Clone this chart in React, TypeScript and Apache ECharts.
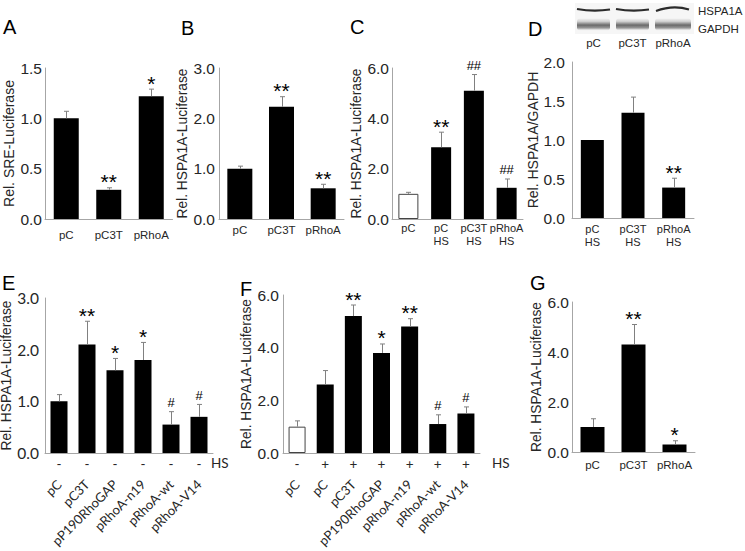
import React, { useEffect, useRef } from 'react';
import * as echarts from 'echarts';

// ---------- data ----------
const catsA = ['pC', 'pC3T', 'pRhoA'];
const ticksA = [0, 0.5, 1.0, 1.5];
const meanA = [1.0, 0.29, 1.22];
const errA = [1.07, 0.31, 1.29];
const sigA = ['', '**', '*'];

const catsB = ['pC', 'pC3T', 'pRhoA'];
const ticksB = [0, 1, 2, 3];
const meanB = [1.0, 2.23, 0.61];
const errB = [1.05, 2.43, 0.69];
const sigB = ['', '**', '**'];

const catsC = ['pC', 'pC\nHS', 'pC3T\nHS', 'pRhoA\nHS'];
const hsC = ['-', '+', '+', '+'];
const ticksC = [0, 2, 4, 6];
const meanC = [1.0, 2.85, 5.1, 1.24];
const errC = [1.06, 3.45, 5.74, 1.59];
const sigC = ['', '**', '##', '##'];

const blotLanes = ['pC', 'pC3T', 'pRhoA'];
const blotBands = ['HSPA1A', 'GAPDH'];
const catsD = ['pC\nHS', 'pC3T\nHS', 'pRhoA\nHS'];
const ticksD = [0, 0.5, 1.0, 1.5, 2.0];
const meanD = [1.0, 1.35, 0.39];
const errD = [1.0, 1.55, 0.51];
const sigD = ['', '', '**'];

const catsE = ['pC', 'pC3T', 'pP190RhoGAP', 'pRhoA-n19', 'pRhoA-wt', 'pRhoA-V14'];
const hsE = ['-', '-', '-', '-', '-', '-'];
const ticksE = [0, 1, 2, 3];
const meanE = [1.0, 2.1, 1.6, 1.8, 0.55, 0.7];
const errE = [1.13, 2.55, 1.83, 2.14, 0.8, 0.94];
const sigE = ['', '**', '*', '*', '#', '#'];

const catsF = ['pC', 'pC', 'pC3T', 'pP190RhoGAP', 'pRhoA-n19', 'pRhoA-wt', 'pRhoA-V14'];
const hsF = ['-', '+', '+', '+', '+', '+', '+'];
const ticksF = [0, 2, 4, 6];
const meanF = [1.0, 2.6, 5.2, 3.8, 4.8, 1.1, 1.5];
const errF = [1.22, 3.13, 5.62, 4.14, 5.1, 1.45, 1.75];
const sigF = ['', '', '**', '*', '**', '#', '#'];

const catsG = ['pC', 'pC3T', 'pRhoA'];
const ticksG = [0, 2, 4, 6];
const meanG = [1.0, 4.3, 0.3];
const errG = [1.33, 5.1, 0.45];
const sigG = ['', '**', '*'];

// ---------- styles ----------
const SANS = '"Liberation Sans", Arial, Helvetica, sans-serif';
const HUM = 'Lato, "Open Sans", sans-serif';
const AX = '#a6a6a6';
const TXT = '#262626';

type Panel = {
  letter: string;
  cats: string[];
  ticks: number[];
  mean: number[];
  err: number[];
  sig: string[];
  hs?: string[];
  hollowControl?: boolean;
  showHs?: boolean;
  grid: { left: number; top: number; width: number; height: number };
  name: string;
  nameGap: number;
  barWidth: number;
  catMargin: number;
  catFont: number;
  catFamily: string;
  rotate?: number;
  tickMargin: number;
  tickFont: number;
  tickFamily: string;
  nameFont: number;
  nameFamily: string;
};

const panels: Panel[] = [
  {
    letter: 'A', cats: catsA, ticks: ticksA, mean: meanA, err: errA, sig: sigA,
    grid: { left: 45, top: 68, width: 127.5, height: 151 },
    name: 'Rel. SRE-Luciferase', nameGap: 29, barWidth: 25, catMargin: 10, catFont: 11.5, catFamily: SANS,
    tickMargin: 3, tickFont: 15.5, tickFamily: SANS, nameFont: 14, nameFamily: SANS,
  },
  {
    letter: 'B', cats: catsB, ticks: ticksB, mean: meanB, err: errB, sig: sigB,
    grid: { left: 219, top: 68, width: 125, height: 151 },
    name: 'Rel. HSPA1A-Luciferase', nameGap: 25, barWidth: 25, catMargin: 5, catFont: 11.5, catFamily: SANS,
    tickMargin: 4, tickFont: 15.5, tickFamily: SANS, nameFont: 13.8, nameFamily: SANS,
  },
  {
    letter: 'C', cats: catsC, ticks: ticksC, mean: meanC, err: errC, sig: sigC, hs: hsC, hollowControl: true,
    grid: { left: 392, top: 68, width: 131, height: 151 },
    name: 'Rel. HSPA1A-Luciferase', nameGap: 26, barWidth: 20, catMargin: 3, catFont: 11, catFamily: SANS,
    tickMargin: 3, tickFont: 15.5, tickFamily: SANS, nameFont: 13.8, nameFamily: SANS,
  },
  {
    letter: 'D', cats: catsD, ticks: ticksD, mean: meanD, err: errD, sig: sigD,
    grid: { left: 572, top: 62, width: 122, height: 156 },
    name: 'Rel. HSPA1A/GAPDH', nameGap: 29, barWidth: 23, catMargin: 5, catFont: 11, catFamily: SANS,
    tickMargin: 7, tickFont: 15.5, tickFamily: SANS, nameFont: 14, nameFamily: SANS,
  },
  {
    letter: 'E', cats: catsE, ticks: ticksE, mean: meanE, err: errE, sig: sigE, hs: hsE, showHs: true,
    grid: { left: 45, top: 298, width: 168, height: 155 },
    name: 'Rel. HSPA1A-Luciferase', nameGap: 28, barWidth: 17, catMargin: 29, catFont: 13, catFamily: HUM, rotate: 45,
    tickMargin: 6, tickFont: 15.5, tickFamily: HUM, nameFont: 13.8, nameFamily: SANS,
  },
  {
    letter: 'F', cats: catsF, ticks: ticksF, mean: meanF, err: errF, sig: sigF, hs: hsF, showHs: true, hollowControl: true,
    grid: { left: 283, top: 295, width: 197, height: 158 },
    name: 'Rel. HSPA1A-Luciferase', nameGap: 30, barWidth: 17, catMargin: 29, catFont: 13, catFamily: HUM, rotate: 45,
    tickMargin: 4, tickFont: 15.5, tickFamily: SANS, nameFont: 13.8, nameFamily: SANS,
  },
  {
    letter: 'G', cats: catsG, ticks: ticksG, mean: meanG, err: errG, sig: sigG,
    grid: { left: 572, top: 302, width: 123, height: 150 },
    name: 'Rel. HSPA1A-Luciferase', nameGap: 29, barWidth: 24, catMargin: 7, catFont: 11.5, catFamily: SANS,
    tickMargin: 3, tickFont: 15.5, tickFamily: SANS, nameFont: 13.8, nameFamily: SANS,
  },
];

// letter positions (left, middle)
const letterPos: Record<string, [number, number]> = {
  A: [3, 27], B: [181, 27.5], C: [350, 27], D: [528, 29], E: [2, 282.5], F: [240, 289], G: [530, 282.5],
};

function buildOption() {
  const grids: any[] = [];
  const xAxes: any[] = [];
  const yAxes: any[] = [];
  const series: any[] = [];
  const graphics: any[] = [];

  panels.forEach((p, k) => {
    grids.push({ ...p.grid, containLabel: false, outerBoundsMode: 'none' });
    const xi = xAxes.length;
    const idxCats = p.cats.map((_, i) => String(i));
    xAxes.push({
      type: 'category',
      gridIndex: k,
      data: idxCats,
      position: 'bottom',
      boundaryGap: true,
      axisLine: { show: true, onZero: false, lineStyle: { color: AX, width: 1 } },
      axisTick: { show: false },
      axisLabel: {
        interval: 0,
        hideOverlap: false,
        formatter: (_v: string, i: number) => p.cats[i],
        margin: p.catMargin,
        fontSize: p.catFont,
        fontFamily: p.catFamily,
        color: TXT,
        rotate: p.rotate || 0,
        lineHeight: 12.5,
      },
    });
    if (p.showHs && p.hs) {
      const hs = p.hs;
      xAxes.push({
        type: 'category',
        gridIndex: k,
        data: idxCats,
        position: 'bottom',
        boundaryGap: true,
        axisLine: { show: false, onZero: false },
        axisTick: { show: false },
        axisLabel: {
          interval: 0,
          formatter: (_v: string, i: number) => hs[i],
          margin: 4,
          fontSize: 13.5,
          fontFamily: HUM,
          color: TXT,
        },
      });
    }
    const t = p.ticks;
    yAxes.push({
      type: 'value',
      gridIndex: k,
      min: t[0],
      max: t[t.length - 1],
      interval: t[1] - t[0],
      axisLine: { show: true, lineStyle: { color: AX, width: 1 } },
      axisTick: { show: false },
      splitLine: { show: false },
      axisLabel: {
        formatter: (v: number) => v.toFixed(1),
        margin: p.tickMargin,
        fontSize: p.tickFont,
        fontFamily: p.tickFamily,
        color: TXT,
      },
      name: p.name,
      nameLocation: 'middle',
      nameGap: p.nameGap,
      nameTextStyle: { fontSize: p.nameFont, fontFamily: p.nameFamily, color: TXT },
    });

    const hollow = (i: number) => !!(p.hollowControl && p.hs && p.hs[i] === '-');
    series.push({
      type: 'bar',
      xAxisIndex: xi,
      yAxisIndex: k,
      barWidth: p.barWidth,
      itemStyle: { color: '#000' },
      data: p.mean.map((v, i) =>
        hollow(i)
          ? { value: v, itemStyle: { color: '#fff', borderColor: '#444', borderWidth: 1 } }
          : v
      ),
    });
    const sig = p.sig;
    series.push({
      type: 'custom',
      xAxisIndex: xi,
      yAxisIndex: k,
      z: 5,
      data: p.mean.map((v, i) => [i, v, p.err[i]]),
      encode: { x: 0, y: [1, 2] },
      renderItem: (params: any, api: any) => {
        const i = api.value(0);
        const b = api.coord([i, api.value(1)]);
        const tp = api.coord([i, api.value(2)]);
        const s = sig[params.dataIndex];
        const st = { stroke: '#808080', lineWidth: 1 };
        const x = Math.round(tp[0]) + 0.5;
        const ch: any[] = [];
        if (api.value(2) > api.value(1)) {
          ch.push({ type: 'line', shape: { x1: x, y1: b[1], x2: x, y2: tp[1] }, style: st });
          ch.push({ type: 'line', shape: { x1: x - 2.5, y1: tp[1], x2: x + 2.5, y2: tp[1] }, style: st });
        }
        if (s) {
          const star = s[0] === '*';
          ch.push({
            type: 'text',
            x: tp[0],
            y: tp[1] - (star ? 6 : 9),
            style: {
              text: s,
              fill: '#000',
              fontSize: star ? 21 : 13,
              fontFamily: SANS,
              align: 'center',
              verticalAlign: 'middle',
            },
          });
        }
        return { type: 'group', children: ch };
      },
    });

    const lp = letterPos[p.letter];
    graphics.push({
      type: 'text',
      x: lp[0],
      y: lp[1],
      style: { text: p.letter, fill: '#000', fontSize: 20, fontFamily: SANS, align: 'left', verticalAlign: 'middle' },
    });
  });

  // HS labels for E and F
  graphics.push({
    type: 'text', x: 211, y: 463,
    style: { text: 'HS', fill: TXT, fontSize: 13.5, fontFamily: HUM, align: 'left', verticalAlign: 'middle' },
  });
  graphics.push({
    type: 'text', x: 492, y: 463,
    style: { text: 'HS', fill: TXT, fontSize: 13.5, fontFamily: HUM, align: 'left', verticalAlign: 'middle' },
  });

  // western blot (image stand-in)
  const laneX: [number, number][] = [[577, 610], [616, 649], [655, 691]];
  graphics.push({ type: 'rect', shape: { x: 575, y: 3, width: 119, height: 31 }, style: { fill: '#f6f6f6' } });
  laneX.forEach(([a, b], i) => {
    graphics.push({
      type: 'rect',
      shape: { x: a, y: 18.5, width: b - a, height: 12, r: 3 },
      style: {
        fill: new echarts.graphic.LinearGradient(0, 0, 0, 1, [
          { offset: 0, color: 'rgba(215,215,215,0.2)' },
          { offset: 0.25, color: '#cfcfcf' },
          { offset: 0.55, color: '#6a6a6a' },
          { offset: 0.8, color: '#9a9a9a' },
          { offset: 1, color: 'rgba(225,225,225,0.2)' },
        ]),
      },
    });
    const arch = i === 2;
    graphics.push({
      type: 'bezierCurve',
      shape: arch
        ? { x1: a + 1, y1: 11, x2: b - 2, y2: 9.5, cpx1: (a + b) / 2, cpy1: 4.5 }
        : { x1: a, y1: 9, x2: b, y2: 9.5, cpx1: (a + b) / 2, cpy1: 12 },
      style: { stroke: '#2b2b2b', lineWidth: 2.2, fill: 'none' },
    });
    graphics.push({
      type: 'text', x: (a + b) / 2, y: 43,
      style: { text: blotLanes[i], fill: TXT, fontSize: 11.5, fontFamily: SANS, align: 'center', verticalAlign: 'middle' },
    });
  });
  graphics.push({
    type: 'text', x: 698, y: 11,
    style: { text: blotBands[0], fill: TXT, fontSize: 11.5, fontFamily: SANS, align: 'left', verticalAlign: 'middle' },
  });
  graphics.push({
    type: 'text', x: 698, y: 29,
    style: { text: blotBands[1], fill: TXT, fontSize: 11.5, fontFamily: SANS, align: 'left', verticalAlign: 'middle' },
  });

  return {
    animation: false,
    backgroundColor: '#fff',
    grid: grids,
    xAxis: xAxes,
    yAxis: yAxes,
    series,
    graphic: { elements: graphics },
  };
}

export default function App() {
  const ref = useRef<HTMLDivElement>(null);
  useEffect(() => {
    if (!ref.current) return;
    const chart = echarts.init(ref.current, undefined, { renderer: 'svg' });
    chart.setOption(buildOption() as any);
    return () => chart.dispose();
  }, []);
  return (
    <div
      ref={ref}
      style={{ position: 'fixed', left: 0, top: 0, width: 745, height: 551, background: '#fff' }}
    />
  );
}
